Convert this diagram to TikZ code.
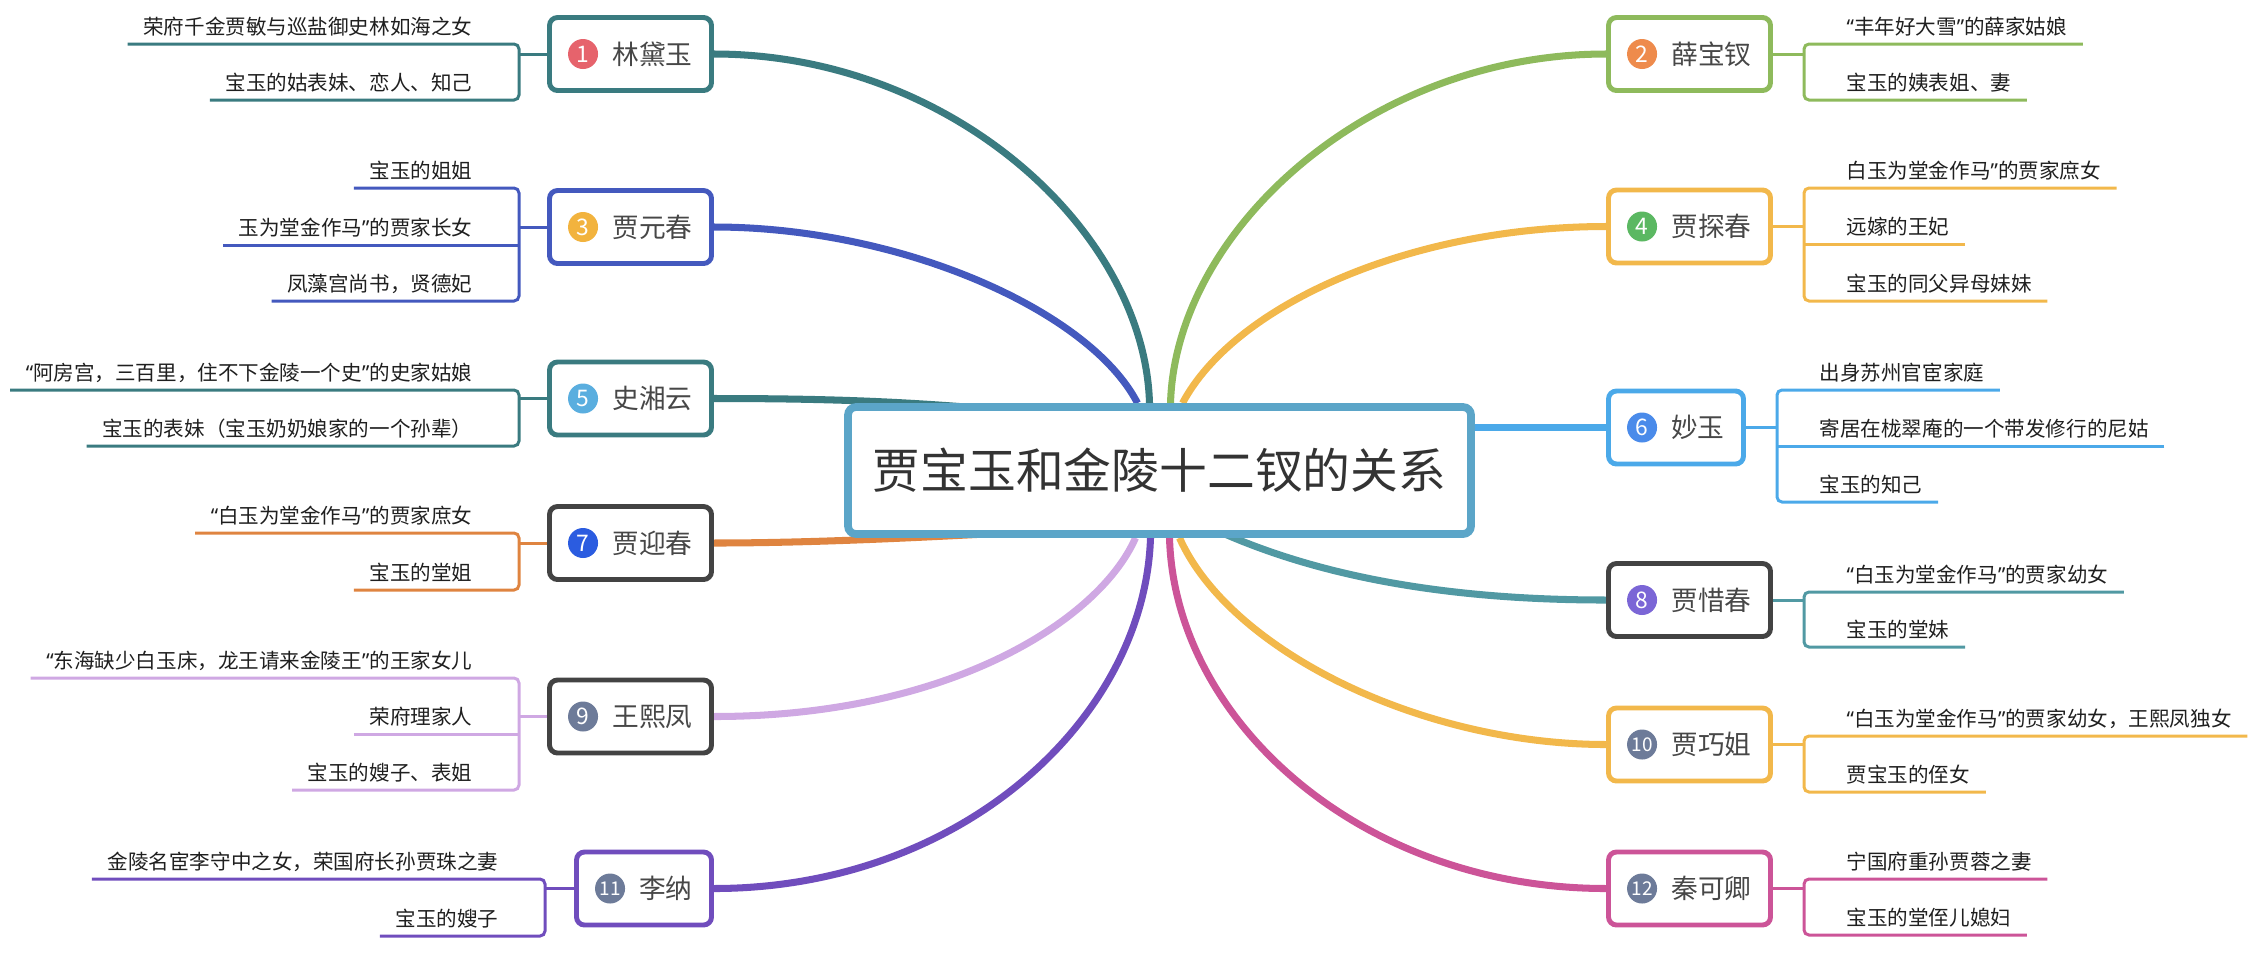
\documentclass[tikz,border=0pt]{standalone}
\usepackage{fontspec}
\setmainfont{Noto Sans CJK SC}
\newfontfamily\westfont{Noto Sans}
\newcommand{\openq}{{\westfont “}}
\newcommand{\closeq}{{\westfont ”}}
\usetikzlibrary{backgrounds}

\definecolor{hubline}{HTML}{5BA5C8}
\definecolor{teal1}{HTML}{3A7B80}
\definecolor{blue3}{HTML}{4459BE}
\definecolor{green2}{HTML}{8EBA5C}
\definecolor{gold4}{HTML}{F2B84B}
\definecolor{sky6}{HTML}{4BA9E9}
\definecolor{orange7}{HTML}{DF8440}
\definecolor{teal8}{HTML}{5199A3}
\definecolor{lilac9}{HTML}{CFA8E3}
\definecolor{violet11}{HTML}{704DBD}
\definecolor{pink12}{HTML}{CC5498}
\definecolor{frame}{HTML}{434343}
\definecolor{dotred}{HTML}{E6636C}
\definecolor{dotorange}{HTML}{EE8B4C}
\definecolor{dotyellow}{HTML}{F2B33E}
\definecolor{dotgreen}{HTML}{5BB862}
\definecolor{dotcyan}{HTML}{5AAEDF}
\definecolor{dotblue}{HTML}{4A8BEA}
\definecolor{dotnavy}{HTML}{2B5CE0}
\definecolor{dotpurple}{HTML}{7B66D6}
\definecolor{dotslate}{HTML}{6D7B99}

\begin{document}
\begin{tikzpicture}[
        hub/.style={draw=hubline, line width=2.2pt, rounded corners=0.08cm, fill=white, minimum width=6.23cm, minimum height=1.27cm, font=\fontsize{13.6}{16}\selectfont, text=black!80},
        person/.style={draw, line width=1.4pt, rounded corners=0.08cm, fill=white, minimum height=0.73cm, text width=1.24cm, align=right, inner xsep=0.19cm, font=\fontsize{7.6}{9}\selectfont, text=black!72},
        narrow/.style={text width=0.97cm},
        badge/.style={circle, fill=#1, minimum size=0.30cm, inner sep=0pt, text=white, font=\fontsize{6.5}{7}\selectfont},
        twodigit/.style={font=\fontsize{5.4}{6}\selectfont},
        leaf/.style={inner xsep=0.15cm, inner ysep=0pt, text depth=0.09cm, font=\fontsize{5.85}{7}\selectfont, text=black!88},
        lleaf/.style={leaf, anchor=south east},
        rleaf/.style={leaf, anchor=south west},
        branch/.style={line width=2pt},
        twig/.style={line width=0.85pt, rounded corners=0.05cm}
    ]
        \useasboundingbox (0,0) rectangle (22.58,-9.52);

        % Central topic
        \node[hub] (hub) at (11.595,-4.705) {贾宝玉和金陵十二钗的关系};

        % Left side
        \node[person, draw=teal1] (n1) at (6.305,-0.54) {林黛玉};
        \node[person, draw=blue3] (n3) at (6.305,-2.27) {贾元春};
        \node[person, draw=teal1] (n5) at (6.305,-3.985) {史湘云};
        \node[person, draw=frame] (n7) at (6.305,-5.43) {贾迎春};
        \node[person, draw=frame] (n9) at (6.305,-7.165) {王熙凤};
        \node[person, narrow, draw=violet11] (n11) at (6.44,-8.885) {李纳};

        % Right side
        \node[person, draw=green2] (n2) at (16.895,-0.54) {薛宝钗};
        \node[person, draw=gold4] (n4) at (16.895,-2.265) {贾探春};
        \node[person, narrow, draw=sky6] (n6) at (16.76,-4.275) {妙玉};
        \node[person, draw=frame] (n8) at (16.895,-6.00) {贾惜春};
        \node[person, draw=gold4] (n10) at (16.895,-7.445) {贾巧姐};
        \node[person, draw=pink12] (n12) at (16.895,-8.885) {秦可卿};

        % Numbers
        \node[badge=dotred] (d1) at ([xshift=0.36cm]n1.west) {1};
        \node[badge=dotorange] (d2) at ([xshift=0.36cm]n2.west) {2};
        \node[badge=dotyellow] (d3) at ([xshift=0.36cm]n3.west) {3};
        \node[badge=dotgreen] (d4) at ([xshift=0.36cm]n4.west) {4};
        \node[badge=dotcyan] (d5) at ([xshift=0.36cm]n5.west) {5};
        \node[badge=dotblue] (d6) at ([xshift=0.36cm]n6.west) {6};
        \node[badge=dotnavy] (d7) at ([xshift=0.36cm]n7.west) {7};
        \node[badge=dotpurple] (d8) at ([xshift=0.36cm]n8.west) {8};
        \node[badge=dotslate] (d9) at ([xshift=0.36cm]n9.west) {9};
        \node[badge=dotslate, twodigit] (d10) at ([xshift=0.36cm]n10.west) {10};
        \node[badge=dotslate, twodigit] (d11) at ([xshift=0.36cm]n11.west) {11};
        \node[badge=dotslate, twodigit] (d12) at ([xshift=0.36cm]n12.west) {12};

        % Main branches
        \begin{scope}[on background layer]
        \draw[branch, teal1] (n1.east) .. controls +(2.36,0) and +(-0.05,1.73) .. ([xshift=-0.10cm]hub.north);
        \draw[branch, blue3] (n3.east) .. controls +(1.86,0) and +(-0.48,0.93) .. ([xshift=-0.22cm]hub.north);
        \draw[branch, teal1] (n5.east) .. controls +(1.36,0) and +(-1.5,0.18) .. ([xshift=-0.6cm,yshift=0.5cm]hub.center);
        \draw[branch, orange7] (n7.east) .. controls +(1.06,0) and +(-1.5,-0.09) .. ([xshift=-0.6cm,yshift=-0.57cm]hub.center);
        \draw[branch, lilac9] (n9.east) .. controls +(2.36,0) and +(-0.36,-0.82) .. ([xshift=-0.24cm]hub.south);
        \draw[branch, violet11] (n11.east) .. controls +(2.46,0) and +(-0.06,-1.82) .. ([xshift=-0.09cm]hub.south);
        \draw[branch, green2] (n2.west) .. controls +(-2.36,0) and +(0.05,1.73) .. ([xshift=0.11cm]hub.north);
        \draw[branch, gold4] (n4.west) .. controls +(-1.96,0) and +(0.52,0.98) .. ([xshift=0.23cm]hub.north);
        \draw[branch, sky6] (n6.west) -- (n6.west -| hub.east);
        \draw[branch, teal8] (n8.west) .. controls +(-2.06,0) and +(1.0,-0.6) .. ([yshift=-0.3cm]hub.center);
        \draw[branch, gold4] (n10.west) .. controls +(-1.86,0) and +(0.5,-1.12) .. ([xshift=0.2cm]hub.south);
        \draw[branch, pink12] (n12.west) .. controls +(-2.46,0) and +(0.05,-1.82) .. ([xshift=0.1cm]hub.south);
        \end{scope}

        % Details, left side
        \node[lleaf] (a1) at (4.88,-0.44) {荣府千金贾敏与巡盐御史林如海之女};
        \node[lleaf] (b1) at (4.88,-1.00) {宝玉的姑表妹、恋人、知己};
        \node[lleaf] (a3) at (4.88,-1.88) {宝玉的姐姐};
        \node[lleaf] (b3) at (4.88,-2.45) {玉为堂金作马\closeq 的贾家长女};
        \node[lleaf] (c3) at (4.88,-3.01) {凤藻宫尚书，贤德妃};
        \node[lleaf] (a5) at (4.88,-3.90) {\openq 阿房宫，三百里，住不下金陵一个史\closeq 的史家姑娘};
        \node[lleaf] (b5) at (4.88,-4.46) {宝玉的表妹（宝玉奶奶娘家的一个孙辈）};
        \node[lleaf] (a7) at (4.88,-5.33) {\openq 白玉为堂金作马\closeq 的贾家庶女};
        \node[lleaf] (b7) at (4.88,-5.90) {宝玉的堂姐};
        \node[lleaf] (a9) at (4.88,-6.78) {\openq 东海缺少白玉床，龙王请来金陵王\closeq 的王家女儿};
        \node[lleaf] (b9) at (4.88,-7.34) {荣府理家人};
        \node[lleaf] (c9) at (4.88,-7.90) {宝玉的嫂子、表姐};
        \node[lleaf] (a11) at (5.14,-8.79) {金陵名宦李守中之女，荣国府长孙贾珠之妻};
        \node[lleaf] (b11) at (5.14,-9.36) {宝玉的嫂子};

        % Details, right side
        \node[rleaf] (a2) at (18.31,-0.44) {\openq 丰年好大雪\closeq 的薛家姑娘};
        \node[rleaf] (b2) at (18.31,-1.00) {宝玉的姨表姐、妻};
        \node[rleaf] (a4) at (18.31,-1.88) {白玉为堂金作马\closeq 的贾家庶女};
        \node[rleaf] (b4) at (18.31,-2.44) {远嫁的王妃};
        \node[rleaf] (c4) at (18.31,-3.01) {宝玉的同父异母妹妹};
        \node[rleaf] (a6) at (18.04,-3.90) {出身苏州官宦家庭};
        \node[rleaf] (b6) at (18.04,-4.46) {寄居在栊翠庵的一个带发修行的尼姑};
        \node[rleaf] (c6) at (18.04,-5.02) {宝玉的知己};
        \node[rleaf] (a8) at (18.31,-5.92) {\openq 白玉为堂金作马\closeq 的贾家幼女};
        \node[rleaf] (b8) at (18.31,-6.47) {宝玉的堂妹};
        \node[rleaf] (a10) at (18.31,-7.36) {\openq 白玉为堂金作马\closeq 的贾家幼女，王熙凤独女};
        \node[rleaf] (b10) at (18.31,-7.92) {贾宝玉的侄女};
        \node[rleaf] (a12) at (18.31,-8.79) {宁国府重孙贾蓉之妻};
        \node[rleaf] (b12) at (18.31,-9.35) {宝玉的堂侄儿媳妇};

        % Brackets
        \coordinate (k1) at (5.19,-0.54);
        \coordinate (k3) at (5.19,-2.27);
        \coordinate (k5) at (5.19,-3.985);
        \coordinate (k7) at (5.19,-5.43);
        \coordinate (k9) at (5.19,-7.165);
        \coordinate (k11) at (5.45,-8.885);
        \coordinate (k2) at (18.04,-0.54);
        \coordinate (k4) at (18.04,-2.265);
        \coordinate (k6) at (17.77,-4.275);
        \coordinate (k8) at (18.04,-6.00);
        \coordinate (k10) at (18.04,-7.445);
        \coordinate (k12) at (18.04,-8.885);

        \draw[twig, teal1] (n1.west) -- (k1);
        \draw[twig, teal1] (a1.south west) -- (a1.south west -| k1) -- (b1.south west -| k1) -- (b1.south west);
        \draw[twig, blue3] (n3.west) -- (k3);
        \draw[twig, blue3] (a3.south west) -- (a3.south west -| k3) -- (c3.south west -| k3) -- (c3.south west);
        \draw[twig, blue3] (b3.south west) -- (b3.south west -| k3);
        \draw[twig, teal1] (n5.west) -- (k5);
        \draw[twig, teal1] (a5.south west) -- (a5.south west -| k5) -- (b5.south west -| k5) -- (b5.south west);
        \draw[twig, orange7] (n7.west) -- (k7);
        \draw[twig, orange7] (a7.south west) -- (a7.south west -| k7) -- (b7.south west -| k7) -- (b7.south west);
        \draw[twig, lilac9] (n9.west) -- (k9);
        \draw[twig, lilac9] (a9.south west) -- (a9.south west -| k9) -- (c9.south west -| k9) -- (c9.south west);
        \draw[twig, lilac9] (b9.south west) -- (b9.south west -| k9);
        \draw[twig, violet11] (n11.west) -- (k11);
        \draw[twig, violet11] (a11.south west) -- (a11.south west -| k11) -- (b11.south west -| k11) -- (b11.south west);

        \draw[twig, green2] (n2.east) -- (k2);
        \draw[twig, green2] (a2.south east) -- (a2.south east -| k2) -- (b2.south east -| k2) -- (b2.south east);
        \draw[twig, gold4] (n4.east) -- (k4);
        \draw[twig, gold4] (a4.south east) -- (a4.south east -| k4) -- (c4.south east -| k4) -- (c4.south east);
        \draw[twig, gold4] (b4.south east) -- (b4.south east -| k4);
        \draw[twig, sky6] (n6.east) -- (k6);
        \draw[twig, sky6] (a6.south east) -- (a6.south east -| k6) -- (c6.south east -| k6) -- (c6.south east);
        \draw[twig, sky6] (b6.south east) -- (b6.south east -| k6);
        \draw[twig, teal8] (n8.east) -- (k8);
        \draw[twig, teal8] (a8.south east) -- (a8.south east -| k8) -- (b8.south east -| k8) -- (b8.south east);
        \draw[twig, gold4] (n10.east) -- (k10);
        \draw[twig, gold4] (a10.south east) -- (a10.south east -| k10) -- (b10.south east -| k10) -- (b10.south east);
        \draw[twig, pink12] (n12.east) -- (k12);
        \draw[twig, pink12] (a12.south east) -- (a12.south east -| k12) -- (b12.south east -| k12) -- (b12.south east);
    \end{tikzpicture}
\end{document}
